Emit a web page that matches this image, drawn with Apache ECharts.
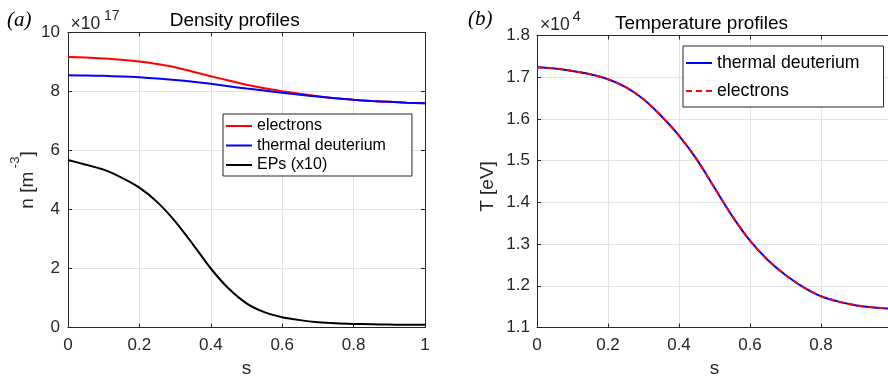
<!DOCTYPE html>
<html>
<head>
<meta charset="utf-8">
<script src="https://cdn.jsdelivr.net/npm/echarts@6/dist/echarts.min.js"></script>
<style>
html,body{margin:0;padding:0;background:#fff;}
#chart{width:888px;height:378px;}
</style>
</head>
<body>
<div id="chart"></div>
<script>
// ---- data ----
const sValues = [0,0.05,0.1,0.15,0.2,0.25,0.3,0.35,0.4,0.45,0.5,0.55,0.6,0.65,0.7,0.75,0.8,0.85,0.9,0.95,1.0];
// density (x1e17 m^-3)
const electronsDensity = [9.17,9.15,9.12,9.08,9.02,8.93,8.82,8.67,8.52,8.37,8.23,8.11,8.01,7.92,7.84,7.77,7.72,7.68,7.65,7.62,7.60];
const deuteriumDensity = [8.55,8.54,8.53,8.51,8.48,8.44,8.39,8.33,8.26,8.18,8.10,8.03,7.96,7.89,7.83,7.77,7.72,7.68,7.65,7.62,7.60];
const epsDensityX10 = [5.68,5.52,5.35,5.08,4.74,4.25,3.60,2.82,2.00,1.32,0.82,0.52,0.35,0.25,0.18,0.14,0.12,0.11,0.10,0.09,0.09];
// temperature (x1e4 eV)
const deuteriumTemp = [1.724,1.721,1.715,1.707,1.695,1.676,1.647,1.607,1.560,1.503,1.435,1.367,1.308,1.262,1.226,1.197,1.175,1.162,1.153,1.148,1.145];
const electronsTemp = [1.724,1.721,1.715,1.707,1.695,1.676,1.647,1.607,1.560,1.503,1.435,1.367,1.308,1.262,1.226,1.197,1.175,1.162,1.153,1.148,1.145];
const xTicks = [0,0.2,0.4,0.6,0.8,1];
const densityTicks = [0,2,4,6,8,10];
const tempTicks = [1.1,1.2,1.3,1.4,1.5,1.6,1.7,1.8];
const seriesNamesA = ['electrons','thermal deuterium','EPs (x10)'];
const seriesNamesB = ['thermal deuterium','electrons'];

const pair = arr => sValues.map((x,i)=>[x,arr[i]]);
const FONT = '"Liberation Sans", Arial, Helvetica, sans-serif';
const AX = '#262626';
const GRIDC = '#e3e3e3';
const DASH = [6,4];

function xAxisMain(gi){
  return {type:'value', gridIndex:gi, min:xTicks[0], max:xTicks[xTicks.length-1], interval:0.2,
    name:'s', nameLocation:'middle', nameGap:32,
    nameTextStyle:{fontSize:19, color:AX, fontFamily:FONT},
    axisLine:{show:true, onZero:false, lineStyle:{color:AX, width:1}},
    axisTick:{show:true, inside:true, length:4, lineStyle:{color:AX}},
    axisLabel:{fontSize:17, color:AX, fontFamily:FONT, margin:9, formatter:v=>String(+v.toFixed(1))},
    splitLine:{show:true, lineStyle:{color:GRIDC, width:1}}};
}
function xAxisTop(gi){
  return {type:'value', gridIndex:gi, position:'top', min:xTicks[0], max:xTicks[xTicks.length-1], interval:0.2,
    axisLine:{show:true, onZero:false, lineStyle:{color:AX, width:1}},
    axisTick:{show:true, inside:true, length:4, lineStyle:{color:AX}},
    axisLabel:{show:false}, splitLine:{show:false}};
}
const lineSeries = (name, xi, yi, arr, color, dash) => ({
  name, type:'line', xAxisIndex:xi, yAxisIndex:yi, data:pair(arr),
  symbol:'none', smooth:0.3,
  lineStyle:{color, width:2, type: dash || 'solid'}, itemStyle:{color}
});

const option = {
  animation:false,
  backgroundColor:'#fff',
  title:[
    {text:'Density profiles', left:234.7, textAlign:'center', top:11, padding:0,
     textStyle:{fontSize:19, fontWeight:'normal', color:'#000', fontFamily:FONT}},
    {text:'Temperature profiles', left:701.5, textAlign:'center', top:14, padding:0,
     textStyle:{fontSize:19, fontWeight:'normal', color:'#000', fontFamily:FONT}}
  ],
  grid:[
    {left:68, top:32.5, width:357, height:295, outerBoundsMode:'none', containLabel:false},
    {left:537, top:35.5, width:355, height:292, outerBoundsMode:'none', containLabel:false}
  ],
  xAxis:[xAxisMain(0), xAxisTop(0), xAxisMain(1), xAxisTop(1)],
  yAxis:[
    {type:'value', gridIndex:0, min:densityTicks[0], max:densityTicks[densityTicks.length-1], interval:2,
     name:'{a|n [m}{s| -3}{a|]}', nameLocation:'middle', nameGap:29, nameRotate:90,
     nameTextStyle:{rich:{a:{fontSize:19, color:AX, fontFamily:FONT, lineHeight:28, verticalAlign:'bottom'},
                          s:{fontSize:13, color:AX, fontFamily:FONT, lineHeight:28, verticalAlign:'top'}}},
     axisLine:{show:true, onZero:false, lineStyle:{color:AX}},
     axisTick:{show:true, inside:true, length:4, lineStyle:{color:AX}},
     axisLabel:{fontSize:17, color:AX, fontFamily:FONT, margin:8},
     splitLine:{show:true, lineStyle:{color:GRIDC}}},
    {type:'value', gridIndex:0, position:'right', min:densityTicks[0], max:densityTicks[densityTicks.length-1], interval:2,
     axisLine:{show:true, onZero:false, lineStyle:{color:AX}},
     axisTick:{show:true, inside:true, length:4, lineStyle:{color:AX}},
     axisLabel:{show:false}, splitLine:{show:false}},
    {type:'value', gridIndex:1, min:tempTicks[0], max:tempTicks[tempTicks.length-1], interval:0.1,
     name:'{a|T [eV]}', nameLocation:'middle', nameGap:40, nameRotate:90,
     nameTextStyle:{rich:{a:{fontSize:19, color:AX, fontFamily:FONT, padding:[0,10,0,0]}}},
     axisLine:{show:true, onZero:false, lineStyle:{color:AX}},
     axisTick:{show:true, inside:true, length:4, lineStyle:{color:AX}},
     axisLabel:{fontSize:17, color:AX, fontFamily:FONT, margin:7, formatter:v=>v.toFixed(1)},
     splitLine:{show:true, lineStyle:{color:GRIDC}}},
    {type:'value', gridIndex:1, position:'right', min:tempTicks[0], max:tempTicks[tempTicks.length-1], interval:0.1,
     axisLine:{show:true, onZero:false, lineStyle:{color:AX}},
     axisTick:{show:true, inside:true, length:4, lineStyle:{color:AX}},
     axisLabel:{show:false}, splitLine:{show:false}}
  ],
  legend:[
    {data:seriesNamesA, orient:'vertical', left:223, top:114, itemWidth:26, itemHeight:14, itemGap:3.5,
     padding:[4,26,3,2], borderColor:AX, borderWidth:1, backgroundColor:'#fff', borderRadius:0,
     itemStyle:{opacity:0, borderWidth:0},
     textStyle:{fontSize:16, color:'#000', fontFamily:FONT}, selectedMode:false},
    {data:[{name:seriesNamesB[0]}, {name:seriesNamesB[1], lineStyle:{type:DASH, width:2, color:'#ff0000'}}],
     orient:'vertical', left:683, top:46, itemWidth:26, itemHeight:14, itemGap:10,
     padding:[8,24,7,2], borderColor:AX, borderWidth:1, backgroundColor:'#fff', borderRadius:0,
     itemStyle:{opacity:0, borderWidth:0},
     textStyle:{fontSize:17.7, color:'#000', fontFamily:FONT}, selectedMode:false}
  ],
  series:[
    lineSeries(seriesNamesA[0], 0, 0, electronsDensity, '#ff0000'),
    lineSeries(seriesNamesA[1], 0, 0, deuteriumDensity, '#0000ff'),
    lineSeries(seriesNamesA[2], 0, 0, epsDensityX10, '#000000'),
    lineSeries(seriesNamesB[0], 2, 2, deuteriumTemp, '#0000ff'),
    lineSeries(seriesNamesB[1], 2, 2, electronsTemp, '#ff0000', DASH)
  ],
  graphic:[
    {type:'text', x:7, y:20.5, style:{text:'(a)', fill:'#000', font:'italic 21px "Liberation Serif", "Times New Roman", serif', verticalAlign:'middle'}},
    {type:'text', x:70.5, y:24.5, style:{text:'×10', fill:AX, font:'17.5px '+FONT, verticalAlign:'middle'}},
    {type:'text', x:104, y:15.7, style:{text:'17', fill:AX, font:'14px '+FONT, verticalAlign:'middle'}},
    {type:'text', x:468, y:19, style:{text:'(b)', fill:'#000', font:'italic 21px "Liberation Serif", "Times New Roman", serif', verticalAlign:'middle'}},
    {type:'text', x:540, y:25.5, style:{text:'×10', fill:AX, font:'17.5px '+FONT, verticalAlign:'middle'}},
    {type:'text', x:572.5, y:16.8, style:{text:'4', fill:AX, font:'15px '+FONT, verticalAlign:'middle'}}
  ]
};
const chart = echarts.init(document.getElementById('chart'), null, {renderer:'canvas'});
chart.setOption(option);
</script>
</body>
</html>
